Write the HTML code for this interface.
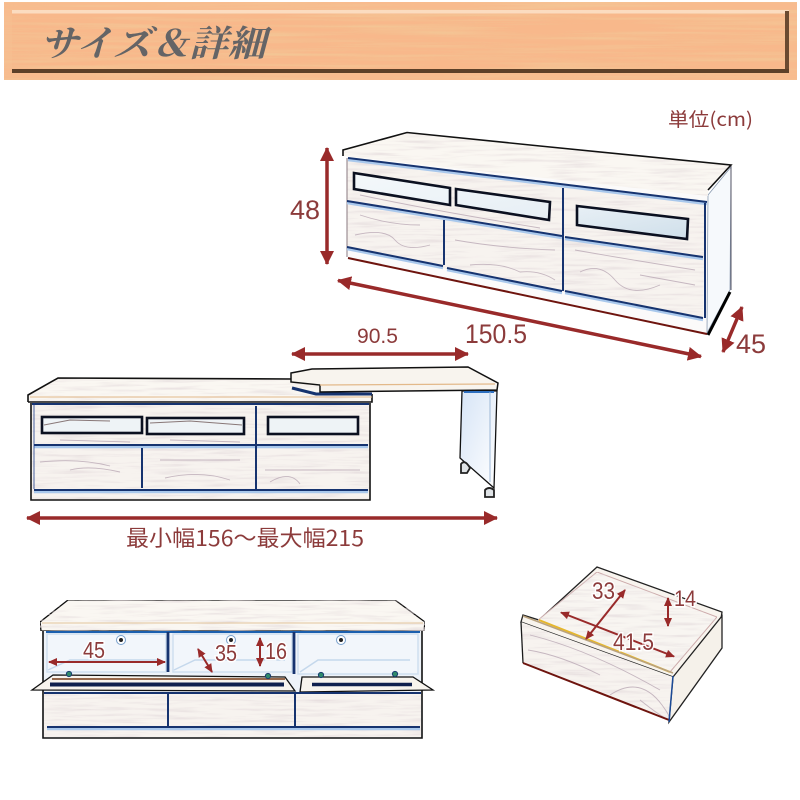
<!DOCTYPE html>
<html lang="ja"><head><meta charset="utf-8"><title>サイズ&#65286;詳細</title>
<style>
html,body{margin:0;padding:0;background:#fff}
svg{display:block}
text{font-family:"Liberation Sans","Noto Sans CJK JP",sans-serif;fill:#8c3b3b}
.cj{font-family:"Noto Sans CJK JP","Liberation Sans",sans-serif}
.title{font-family:"Noto Serif CJK SC","Liberation Serif",serif;fill:#646466;font-style:italic;font-weight:700;font-size:36px}
.halo{paint-order:stroke;stroke:#fff;stroke-width:3px}
.ln{fill:none;stroke:#111;stroke-width:1.6}
.bl{fill:none;stroke:#16336f;stroke-width:2}
.lb{fill:none;stroke:#a9c8ec;stroke-width:2.500}
.blk{stroke:#0b1020;stroke-width:2.600}
.a{fill:none;stroke:#992a2a;stroke-width:3.500;marker-start:url(#m);marker-end:url(#m)}
.as{fill:none;stroke:#992a2a;stroke-width:2;marker-start:url(#s);marker-end:url(#s)}
.g{fill:none;stroke:#b9a8b4;stroke-width:.9;opacity:.8}
</style></head><body>
<svg width="800" height="800" viewBox="0 0 800 800" xmlns="http://www.w3.org/2000/svg">
<defs>
<marker id="m" markerUnits="userSpaceOnUse" markerWidth="16" markerHeight="16" refX="13" refY="7" orient="auto-start-reverse"><path d="M0 0L14 7L0 14Z" fill="#992a2a"/></marker>
<marker id="s" markerUnits="userSpaceOnUse" markerWidth="10" markerHeight="10" refX="8" refY="4" orient="auto-start-reverse"><path d="M0 0L9 4L0 8Z" fill="#992a2a"/></marker>
<filter id="w" x="0" y="0" width="100%" height="100%"><feTurbulence type="fractalNoise" baseFrequency="0.006 0.28" numOctaves="3" seed="4"/><feColorMatrix values="0 0 0 0 .9 0 0 0 0 .56 0 0 0 0 .3 2.200 0 0 0 -.9"/><feComposite in2="SourceGraphic" operator="in"/><feMerge><feMergeNode in="SourceGraphic"/><feMergeNode/></feMerge></filter>
<filter id="p" x="0" y="0" width="100%" height="100%"><feTurbulence type="fractalNoise" baseFrequency="0.02 0.35" numOctaves="3" seed="9"/><feColorMatrix values="0 0 0 0 .74 0 0 0 0 .66 0 0 0 0 .68 1.6 0 0 0 -.75"/><feComposite in2="SourceGraphic" operator="in"/><feMerge><feMergeNode in="SourceGraphic"/><feMergeNode/></feMerge></filter>
<linearGradient id="s1" x1="0" y1="0" x2="1" y2="1"><stop offset="0" stop-color="#d6e4f6"/><stop offset="1" stop-color="#fff"/></linearGradient>
<linearGradient id="gl" x1="0" y1="0" x2="1" y2="1"><stop offset="0" stop-color="#f4f8fb"/><stop offset=".6" stop-color="#e7eff5"/><stop offset="1" stop-color="#cfdfea"/></linearGradient>
</defs>
<!-- banner -->
<rect x="4" y="2" width="793" height="78" fill="#f8bb8e" filter="url(#w)"/>
<rect x="12" y="10" width="777" height="3.500" fill="#fbdcc0"/>
<rect x="785" y="11" width="4" height="62" fill="#6b4a30"/>
<rect x="12" y="69" width="777" height="4" fill="#5d4028"/>
<rect x="12" y="13.500" width="773" height="55.500" fill="#f8b88b" filter="url(#w)"/>
<text class="title" x="40" y="56" textLength="226" lengthAdjust="spacingAndGlyphs">サイズ&#65286;詳細</text>

<text class="cj" x="668" y="126" font-size="19" textLength="85" lengthAdjust="spacingAndGlyphs">単位(cm)</text>

<!-- top cabinet -->
<path d="M347 157L708 195L731 167L730 290L707 333L348 259Z" fill="#fbfafa"/>
<path d="M708 195L731 167L730 290L707 333Z" fill="#f6f9fc" stroke="#8a9ab0" stroke-width=".8"/>
<path d="M347 160L705 202L703 318L347 250Z" fill="#f7f3ef" filter="url(#p)"/>
<path d="M343 150L407 132L731 165L708 190L708 196L343 156Z" fill="#faf7f2" filter="url(#p)"/>
<path d="M343 156L343 150L407 132.500L540 146L731 165L708 190" class="ln"/>
<path d="M731 166V290" stroke="#556" stroke-width="1"/>
<path d="M347 158V257" stroke="#8a7a80" stroke-width="1"/>
<path d="M348 258L707 334" stroke="#6e140e" stroke-width="2" fill="none"/>
<path d="M708 335L730 292" stroke="#000" stroke-width="3" fill="none"/>
<path class="g" d="M360 215Q390 225 420 225M355 235Q385 228 395 240T430 245M455 240Q500 248 555 250M470 265Q500 262 520 272Q540 270 555 280M575 250Q620 258 695 270M580 272Q600 262 615 280T660 285M640 275L695 285M360 195Q430 210 540 228"/>
<path class="lb" transform="translate(0,2)" d="M348 158L707 202M347 201L562 236M347 247L443 266M447 268L562 291M565 237L703 257M565 291L703 318"/>
<path class="bl" d="M348 158L707 202M347 201L562 236M347 247L443 266M447 268L562 291M565 237L703 257M565 291L703 318M705 203V318M563 188V291M444 220V265"/>
<path d="M354 173L450 188V205L354 189ZM456 189L550 202L549 220L456 205ZM577 206L688 219L687 239L577 225Z" class="blk" fill="url(#gl)"/>
<path class="a" d="M327 148V264"/>
<path class="a" d="M338 280.500L701 356.500"/>
<path class="a" d="M742 307L723 352"/>
<path class="a" d="M292 354H468"/>
<text x="290" y="219" font-size="27" textLength="30" lengthAdjust="spacingAndGlyphs">48</text>
<text x="465" y="343" font-size="27" textLength="62" lengthAdjust="spacingAndGlyphs">150.5</text>
<text x="357" y="343" font-size="21" textLength="41" lengthAdjust="spacingAndGlyphs">90.5</text>
<text x="736" y="353" font-size="27" textLength="30" lengthAdjust="spacingAndGlyphs">45</text>

<!-- middle cabinet -->
<path d="M31 403H370V500H31Z" fill="#f7f3ef" filter="url(#p)"/>
<path d="M28 395L58 378L372 379V402H28Z" fill="#faf7f2" filter="url(#p)"/>
<path d="M28 402V395L58 378L292 379M372 394V402H28M31 403V500H370V403" class="ln"/>
<path d="M30 397H372" stroke="#e3b98a" stroke-width="1"/>
<path class="g" d="M40 462Q80 458 110 466M70 470Q90 465 120 472M160 460H240M165 478Q200 470 230 480M265 470H360M270 482Q290 470 300 484M60 440L130 442M170 440L240 442"/>
<path class="lb" d="M34 447H368M34 492H368"/>
<path class="bl" stroke-width="2.800" d="M32 404H369M34 445H368M34 490H368M256 406V489M142 448V488"/>
<path d="M34 403V489" stroke="#1b3d8c" stroke-width=".8"/>
<rect x="42" y="417" width="100" height="16" class="blk" fill="#eef3f6"/>
<rect x="147" y="418" width="97" height="16" class="blk" fill="#eef3f6"/>
<rect x="268" y="417" width="90" height="17" class="blk" fill="#eef3f6"/>
<path d="M44 425L70 420L110 421M150 423L190 421L242 425" stroke="#877" stroke-width="1" fill="none"/>
<path d="M292 388L316 394H372" stroke="#16336f" stroke-width="3" fill="none"/>
<path d="M462 391H497L494 488L460 458Z" fill="url(#s1)" stroke="#111" stroke-width="1.300"/>
<path d="M464 392H494" stroke="#2d6fc0" stroke-width="2"/>
<path d="M490 392V482" stroke="#9cb7d6"/>
<path d="M291 373L312 369L468 367L498 383L497 390L320 392V385L291 382Z" fill="#f8f4ee" stroke="#111" stroke-width="1.500"/>
<path d="M320 385L495 384" stroke="#e3b98a" stroke-width="1.200"/>
<path d="M461 464Q465 459 470 468L467 473L461 473ZM485 497V490Q489 486 494 490V497H485Z" fill="#dfe3e6" stroke="#222" stroke-width="1.800"/>
<path class="a" d="M27 518H497"/>
<text class="cj" x="126" y="546" font-size="22" textLength="238" lengthAdjust="spacingAndGlyphs">最小幅156〜最大幅215</text>

<!-- bottom cabinet -->
<rect x="43" y="631" width="379" height="107" fill="#eef3f9"/>
<rect x="44" y="692" width="377" height="45" fill="#f7f3ef" filter="url(#p)"/>
<path d="M40 622L68 600H395L425 622L424 631H41Z" fill="#faf7f2" filter="url(#p)" stroke="#111" stroke-width="1.300"/>
<path d="M42 623H423" stroke="#e3c59c" stroke-width="1"/>
<path d="M43 631V738H422V631" class="ln"/>
<path d="M46 632H420" stroke="#1b5fae" stroke-width="2"/>
<path d="M47 634H166V672H47ZM173 634H292V672H173ZM298 634H418V674H298Z" fill="#f2f6fb" stroke="#cfdff0" stroke-width="1.500"/>
<path d="M168 632V672M294 632V674" stroke="#16336f" stroke-width="2.800"/>
<path d="M48 670L70 660H160M174 670L195 660H285M300 672L318 660H410" fill="none" stroke="#c5d8ec" stroke-width="1.500"/>
<circle cx="121" cy="640" r="4.500" fill="#fff" stroke="#78a0cc"/><circle cx="121" cy="640" r="2" fill="#222"/>
<circle cx="231" cy="640" r="4.500" fill="#fff" stroke="#78a0cc"/><circle cx="231" cy="640" r="2" fill="#222"/>
<circle cx="341" cy="640" r="4.500" fill="#fff" stroke="#78a0cc"/><circle cx="341" cy="640" r="2" fill="#222"/>
<path d="M32 690L53 675L285 677L295 691Z" fill="#f8f4ee" stroke="#111" stroke-width="1.300"/>
<path d="M300 692L302 677H413L433 690Z" fill="#f8f4ee" stroke="#111" stroke-width="1.300"/>
<path d="M52 679H285" stroke="#96684c" stroke-width="2"/>
<path d="M50 684.500H284" stroke="#10204e" stroke-width="4"/>
<path d="M312 684.500H412" stroke="#10204e" stroke-width="3.500"/>
<path class="lb" d="M47 729H420"/>
<path class="bl" d="M44 693H421M47 727H420M168 693V727M295 693V727"/>
<g fill="#2f8a6a" stroke="#1a3f70"><circle cx="69" cy="674" r="2.600"/><circle cx="268" cy="676" r="2.600"/><circle cx="321" cy="675" r="2.600"/><circle cx="395" cy="674" r="2.600"/></g>
<path class="as" d="M49 662H165"/>
<path class="as" d="M198 649L212 672"/>
<path class="as" d="M260 638V666"/>
<text class="halo" x="83" y="658" font-size="23" textLength="22" lengthAdjust="spacingAndGlyphs">45</text>
<text class="halo" x="215" y="661" font-size="23" textLength="22" lengthAdjust="spacingAndGlyphs">35</text>
<text class="halo" x="265" y="659" font-size="23" textLength="22" lengthAdjust="spacingAndGlyphs">16</text>

<!-- drawer -->
<path d="M523 615L539 620L597 567L722 612L717 647L670 720L673 677L521 622Z" fill="#f8f4ee" stroke="#222" stroke-width="1.300"/>
<path d="M538 620L597 572L717 617L670 672Z" fill="#f8f5f1" filter="url(#p)" stroke="#caa" stroke-width="1"/>
<path d="M673 677L722 616V648L669 722Z" fill="#f5f1ea" stroke="#222" stroke-width="1.300"/>
<path d="M521 622L673 677L669 720L523 663Z" fill="#f7f3ef" filter="url(#p)"/>
<path class="g" d="M530 635Q590 650 660 690M528 650Q560 655 600 675M610 695Q640 675 662 705T640 700"/>
<path d="M521 622L523 663" stroke="#1b1b1b" stroke-width="1.300" fill="none"/>
<path d="M523 663L669 720" stroke="#6e140e" stroke-width="2"/>
<path d="M539 620L670 672" stroke="#e6b72c" stroke-width="2"/>
<path d="M523 616L673 673" stroke="#b9a27e" stroke-width="1.500"/>
<path d="M673 676L669 722" stroke="#1b4a96" stroke-width="1.500"/>
<path class="as" stroke-width="1.500" d="M625 590L586 639"/>
<path class="as" d="M561 612.500L674 656.500"/>
<path class="as" d="M668 598V626"/>
<text class="halo" x="592" y="599" font-size="24" textLength="23" lengthAdjust="spacingAndGlyphs">33</text>
<text class="halo" x="674" y="606" font-size="22" textLength="22" lengthAdjust="spacingAndGlyphs">14</text>
<text class="halo" x="613" y="650" font-size="24" textLength="41" lengthAdjust="spacingAndGlyphs">41.5</text>
</svg>
</body></html>
